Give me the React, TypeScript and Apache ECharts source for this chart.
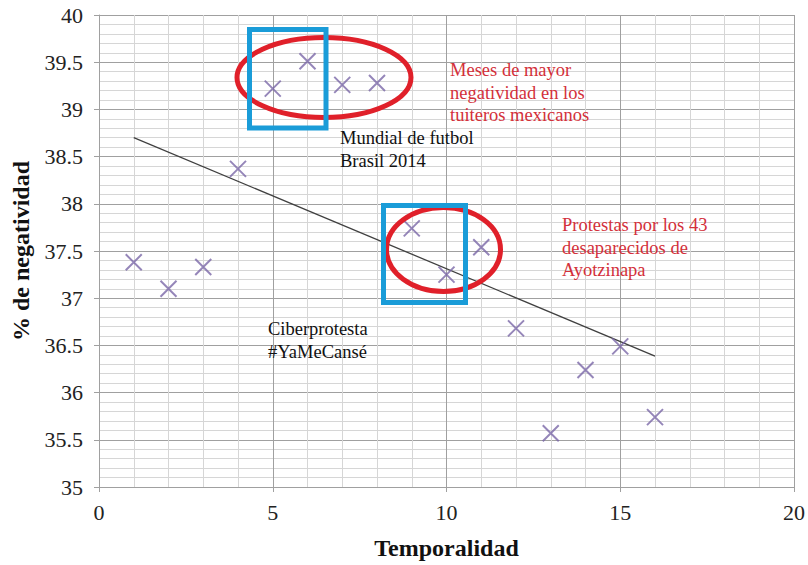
import React, { useEffect, useRef } from "react";
import * as echarts from "echarts";

const months = [1, 2, 3, 4, 5, 6, 7, 8, 9, 10, 11, 12, 13, 14, 15, 16];
const negativity = [37.38, 37.1, 37.33, 38.37, 39.22, 39.51, 39.26, 39.28, 37.74, 37.25, 37.54, 36.68, 35.57, 36.24, 36.49, 35.74];
const xTicks = [0, 5, 10, 15, 20];
const yTicks = [35, 35.5, 36, 36.5, 37, 37.5, 38, 38.5, 39, 39.5, 40];

const SERIF = "'Liberation Serif', 'Times New Roman', serif";

function trendLine(xs: number[], ys: number[]) {
  const n = xs.length;
  const mx = xs.reduce((a, b) => a + b, 0) / n;
  const my = ys.reduce((a, b) => a + b, 0) / n;
  let sxy = 0, sxx = 0;
  for (let i = 0; i < n; i++) {
    sxy += (xs[i] - mx) * (ys[i] - my);
    sxx += (xs[i] - mx) * (xs[i] - mx);
  }
  const b = sxy / sxx;
  const a = my - b * mx;
  const x0 = xs[0], x1 = xs[n - 1];
  return [[x0, a + b * x0], [x1, a + b * x1]];
}

export default function App() {
  const ref = useRef<HTMLDivElement>(null);
  useEffect(() => {
    document.body.style.margin = "0";
    const chart = echarts.init(ref.current!, null, { renderer: "svg" });
    const red = "#d3303a";
    const option: any = {
      animation: false,
      backgroundColor: "#ffffff",
      grid: { left: 99, right: 13, top: 15, bottom: 78 },
      xAxis: {
        type: "value",
        min: xTicks[0],
        max: xTicks[xTicks.length - 1],
        interval: 5,
        name: "Temporalidad",
        nameLocation: "middle",
        nameGap: 49,
        nameTextStyle: { fontFamily: SERIF, fontSize: 24, fontWeight: "bold", color: "#111" },
        axisLine: { show: true, lineStyle: { color: "#a0a0a0", width: 1 } },
        axisTick: { show: true, length: 5, lineStyle: { color: "#a0a0a0" } },
        axisLabel: { fontFamily: SERIF, fontSize: 22, color: "#222", margin: 14 },
        splitLine: { show: true, lineStyle: { color: "#a0a0a0", width: 1 } },
        minorTick: { show: false, splitNumber: 5 },
        minorSplitLine: { show: true, lineStyle: { color: "#d6d6d6", width: 1 } },
      },
      yAxis: {
        type: "value",
        min: yTicks[0],
        max: yTicks[yTicks.length - 1],
        interval: 0.5,
        name: "% de negatividad",
        nameLocation: "middle",
        nameGap: 66,
        nameTextStyle: { fontFamily: SERIF, fontSize: 24, fontWeight: "bold", color: "#111" },
        axisLine: { show: true, lineStyle: { color: "#a0a0a0", width: 1 } },
        axisTick: { show: true, length: 5, lineStyle: { color: "#a0a0a0" } },
        axisLabel: { fontFamily: SERIF, fontSize: 22, color: "#222", margin: 16 },
        splitLine: { show: true, lineStyle: { color: "#a0a0a0", width: 1 } },
        minorTick: { show: false, splitNumber: 5 },
        minorSplitLine: { show: true, lineStyle: { color: "#d6d6d6", width: 1 } },
      },
      series: [
        {
          type: "line",
          data: trendLine(months, negativity),
          symbol: "none",
          lineStyle: { color: "#404040", width: 1.3 },
          z: 2,
        },
        {
          type: "scatter",
          data: months.map((m, i) => [m, negativity[i]]),
          symbol: "path://M0,0L10,10M10,0L0,10",
          symbolSize: 16,
          itemStyle: { color: "none", borderColor: "#7b68a8", borderWidth: 2 },
          z: 3,
        },
      ],
      graphic: [
        { type: "ellipse", z: 10, shape: { cx: 324, cy: 77.5, rx: 87, ry: 40 }, style: { fill: "none", stroke: "#e0202a", lineWidth: 5 } },
        { type: "ellipse", z: 10, shape: { cx: 443.5, cy: 249.5, rx: 57, ry: 42 }, style: { fill: "none", stroke: "#e0202a", lineWidth: 5 } },
        { type: "rect", z: 11, shape: { x: 249.5, y: 29.5, width: 76.5, height: 98.5 }, style: { fill: "none", stroke: "#1a9cd8", lineWidth: 5 } },
        { type: "rect", z: 11, shape: { x: 383.5, y: 205.5, width: 82, height: 97 }, style: { fill: "none", stroke: "#1a9cd8", lineWidth: 5 } },
        { type: "text", z: 12, x: 450, y: 59, style: { text: "Meses de mayor\nnegatividad en los\ntuiteros mexicanos", fontFamily: SERIF, fontSize: 18.5, lineHeight: 22.5, fill: red, verticalAlign: "top" } },
        { type: "text", z: 12, x: 340, y: 127, style: { text: "Mundial de futbol\nBrasil 2014", fontFamily: SERIF, fontSize: 18.5, lineHeight: 22.5, fill: "#111", verticalAlign: "top" } },
        { type: "text", z: 12, x: 562, y: 214, style: { text: "Protestas por los 43\ndesaparecidos de\nAyotzinapa", fontFamily: SERIF, fontSize: 18.5, lineHeight: 22.5, fill: red, verticalAlign: "top" } },
        { type: "text", z: 12, x: 268, y: 318, style: { text: "Ciberprotesta\n#YaMeCansé", fontFamily: SERIF, fontSize: 18.5, lineHeight: 22.5, fill: "#111", verticalAlign: "top" } },
      ],
    };
    chart.setOption(option);
    return () => chart.dispose();
  }, []);
  return <div ref={ref} style={{ width: 808, height: 565 }} />;
}
